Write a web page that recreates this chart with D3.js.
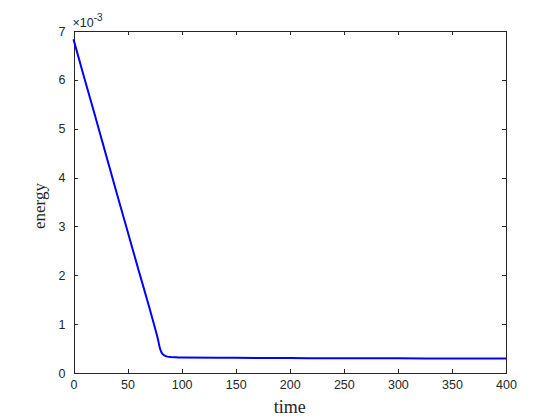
<!DOCTYPE html>
<html><head><meta charset="utf-8">
<script src="https://cdn.jsdelivr.net/npm/d3@7"></script>
<style>body{margin:0;background:#fff}svg{display:block}</style>
</head><body>
<script>
const timeVals = [0,10,20,30,40,50,60,70,75,78,80,81,82,84,86,88,90,95,100,150,200,250,300,350,400];
const energyVals = [6.83,6.04,5.26,4.47,3.68,2.90,2.12,1.35,0.95,0.70,0.50,0.44,0.40,0.36,0.34,0.33,0.325,0.32,0.315,0.31,0.305,0.30,0.30,0.295,0.295];
const xTicks = [0,50,100,150,200,250,300,350,400];
const yTicks = [0,1,2,3,4,5,6,7];
const W=560,H=420;
const m={l:73.5,r:506,t:31,b:373};
const svg=d3.select("body").append("svg").attr("width",W).attr("height",H);
const x=d3.scaleLinear().domain([0,400]).range([m.l,m.r]);
const y=d3.scaleLinear().domain([0,7]).range([m.b,m.t]);
const col="#262626";
const tf="'Liberation Sans',Arial,sans-serif";
const gB=svg.append("g").attr("transform",`translate(0,${m.b})`)
 .call(d3.axisBottom(x).tickValues(xTicks).tickSizeInner(-4).tickSizeOuter(0).tickPadding(7).tickFormat(d3.format("d")));
const gT=svg.append("g").attr("transform",`translate(0,${m.t})`)
 .call(d3.axisTop(x).tickValues(xTicks).tickSizeInner(-4).tickSizeOuter(0).tickFormat(""));
const gL=svg.append("g").attr("transform",`translate(${m.l},0)`)
 .call(d3.axisLeft(y).tickValues(yTicks).tickSizeInner(-4).tickSizeOuter(0).tickPadding(8).tickFormat(d3.format("d")));
const gR=svg.append("g").attr("transform",`translate(${m.r},0)`)
 .call(d3.axisRight(y).tickValues(yTicks).tickSizeInner(-4).tickSizeOuter(0).tickFormat(""));
[gB,gT,gL,gR].forEach(g=>{
 g.selectAll("path,line").attr("stroke",col).attr("stroke-width",1).attr("shape-rendering","crispEdges");
 g.selectAll("text").attr("fill",col).style("font-family",tf).style("font-size","12.5px");
});
const line=d3.line().x((d,i)=>x(timeVals[i])).y(d=>y(d)).curve(d3.curveMonotoneX);
svg.append("path").datum(energyVals).attr("d",line).attr("fill","none")
 .attr("stroke","#0000ff").attr("stroke-width",2);
const ex=svg.append("text").attr("x",m.l-1).attr("y",27).attr("fill",col)
 .style("font-family",tf).style("font-size","12.5px");
ex.append("tspan").text("\u00d710");
ex.append("tspan").attr("dy",-6).style("font-size","10px").text("-3");
svg.append("text").attr("x",(m.l+m.r)/2).attr("y",413).attr("text-anchor","middle")
 .attr("fill",col).style("font-family","'Liberation Serif','Times New Roman',serif").style("font-size","18px").text("time");
svg.append("text").attr("transform",`translate(45,206) rotate(-90)`).attr("text-anchor","middle")
 .attr("fill",col).style("font-family","'Liberation Serif','Times New Roman',serif").style("font-size","17px").text("energy");
</script>
</body></html>
